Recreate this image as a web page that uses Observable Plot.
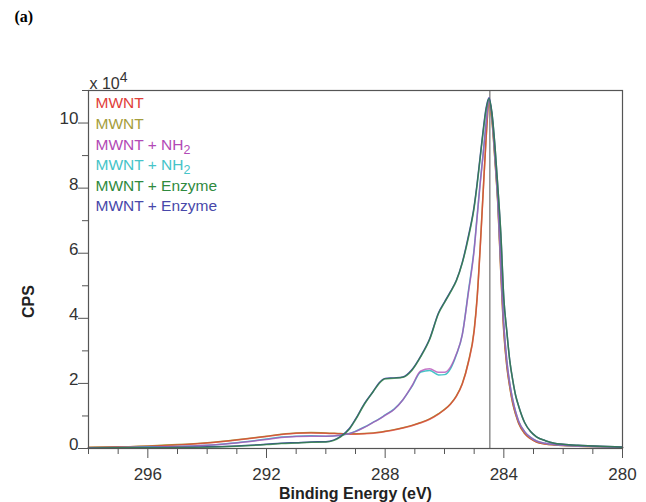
<!DOCTYPE html>
<html><head><meta charset="utf-8">
<script src="https://cdn.jsdelivr.net/npm/d3@7"></script>
<script src="https://cdn.jsdelivr.net/npm/@observablehq/plot@0.6"></script>
<style>
body{margin:0;background:#fff;}
</style></head><body><div id="chart"></div>
<script>
// Binding energy grid (eV), descending
const energy = [298, 297, 296, 295, 294, 293, 292,
  291.5, 291, 290.5, 290,
  289.5, 289.2, 289,
  288.7, 288.4, 288.2, 288,
  287.7, 287.4, 287.1,
  286.8, 286.5, 286.2, 286,
  285.8, 285.6, 285.4, 285.2, 285,
  284.9, 284.8, 284.7, 284.6, 284.5,
  284.4, 284.3, 284.2, 284.1, 284,
  283.9, 283.8, 283.7, 283.6, 283.5,
  283.3, 283.1, 282.9,
  282.6, 282.3, 282,
  281.5, 281, 280.5, 280];

// CPS (x 10^4)
const mwntRed = [0.03, 0.05, 0.07, 0.11, 0.17, 0.26, 0.37,
  0.43, 0.47, 0.48, 0.47,
  0.45, 0.44, 0.44,
  0.45, 0.47, 0.49, 0.52,
  0.57, 0.63, 0.70,
  0.79, 0.90, 1.06, 1.19,
  1.36, 1.60, 1.98, 2.62, 3.60,
  4.60, 6.10, 7.80, 9.50, 10.65,
  10.10, 8.90, 7.50, 5.40, 3.60,
  2.55, 1.90, 1.40, 1.05, 0.78,
  0.47, 0.30, 0.20,
  0.14, 0.11, 0.09,
  0.07, 0.06, 0.05, 0.04];
const mwntOlive = [0.04, 0.05, 0.08, 0.12, 0.18, 0.27, 0.38,
  0.44, 0.48, 0.49, 0.48,
  0.46, 0.45, 0.45,
  0.46, 0.48, 0.50, 0.53,
  0.58, 0.64, 0.71,
  0.80, 0.91, 1.07, 1.20,
  1.37, 1.62, 2.00, 2.65, 3.65,
  4.65, 6.15, 7.85, 9.50, 10.60,
  10.05, 8.85, 7.45, 5.35, 3.55,
  2.52, 1.88, 1.38, 1.04, 0.77,
  0.46, 0.30, 0.20,
  0.14, 0.11, 0.09,
  0.07, 0.06, 0.05, 0.04];
const nh2Magenta = [0.02, 0.03, 0.04, 0.06, 0.10, 0.17, 0.28,
  0.34, 0.37, 0.38, 0.38,
  0.41, 0.46, 0.52,
  0.65, 0.80, 0.90, 1.02,
  1.20, 1.50, 1.92,
  2.38, 2.45, 2.34, 2.34,
  2.50, 2.90, 3.50, 4.75, 6.10,
  7.10, 8.10, 9.00, 9.95, 10.70,
  10.20, 9.00, 7.60, 5.60, 3.80,
  2.70, 2.00, 1.50, 1.12, 0.84,
  0.52, 0.34, 0.23,
  0.16, 0.12, 0.10,
  0.08, 0.06, 0.05, 0.04];
const nh2Cyan = [0.02, 0.03, 0.05, 0.06, 0.10, 0.18, 0.29,
  0.35, 0.38, 0.39, 0.38,
  0.41, 0.46, 0.53,
  0.66, 0.81, 0.91, 1.03,
  1.21, 1.50, 1.90,
  2.35, 2.40, 2.26, 2.27,
  2.45, 2.88, 3.50, 4.80, 6.15,
  7.15, 8.15, 9.05, 10.00, 10.72,
  10.20, 9.00, 7.60, 5.60, 3.80,
  2.70, 2.00, 1.50, 1.12, 0.84,
  0.52, 0.34, 0.23,
  0.16, 0.12, 0.10,
  0.08, 0.06, 0.05, 0.04];
const enzGreen = [0.01, 0.02, 0.02, 0.03, 0.04, 0.07, 0.12,
  0.15, 0.17, 0.19, 0.20,
  0.36, 0.60, 0.88,
  1.36, 1.75, 2.00, 2.14,
  2.16, 2.19, 2.40,
  2.82, 3.35, 4.15, 4.48,
  4.80, 5.15, 5.70, 6.45, 7.40,
  8.10, 8.90, 9.70, 10.40, 10.75,
  10.30, 9.30, 8.00, 6.60, 4.60,
  3.60, 2.70, 2.10, 1.62, 1.30,
  0.80, 0.52, 0.36,
  0.24, 0.16, 0.13,
  0.10, 0.08, 0.06, 0.04];
const enzBlue = [0.01, 0.02, 0.03, 0.03, 0.05, 0.08, 0.13,
  0.16, 0.18, 0.20, 0.21,
  0.37, 0.62, 0.90,
  1.38, 1.76, 2.02, 2.15,
  2.17, 2.20, 2.42,
  2.84, 3.37, 4.17, 4.50,
  4.82, 5.17, 5.72, 6.50, 7.45,
  8.15, 8.95, 9.75, 10.45, 10.78,
  10.30, 9.30, 8.00, 6.55, 4.60,
  3.60, 2.70, 2.10, 1.62, 1.30,
  0.80, 0.52, 0.36,
  0.24, 0.16, 0.13,
  0.10, 0.08, 0.06, 0.04];

const seriesNames = ["MWNT", "MWNT", "MWNT + NH2", "MWNT + NH2", "MWNT + Enzyme", "MWNT + Enzyme"];
const seriesColors = ["#e0403a", "#a59d3c", "#b24ab6", "#46c4c8", "#2f8a3e", "#4848aa"];
const seriesValues = [mwntRed, mwntOlive, nh2Magenta, nh2Cyan, enzGreen, enzBlue];
const drawOrder = [1, 0, 3, 2, 5, 4];

const xMajorTicks = [296, 292, 288, 284, 280];
const xMinorTicks = [298, 297, 295, 294, 293, 291, 290, 289, 287, 286, 285, 283, 282, 281];
const yMajorTicks = [0, 2, 4, 6, 8, 10];
const yMinorTicks = [1, 3, 5, 7, 9, 11];
const referenceLine = [284.47];

const axisColor = "#555";
const textColor = "#333";

const lineMarks = drawOrder.map(k => Plot.line(
  energy.map((e, i) => ({e, v: seriesValues[k][i]})),
  {x: "e", y: "v", stroke: seriesColors[k], strokeWidth: 1.5, strokeOpacity: (k % 2 === 0) ? 0.75 : 1, curve: "monotone-x"}
));

const legendMarks = seriesNames.map((name, i) => Plot.text([name], {
  text: d => d, frameAnchor: "top-left", textAnchor: "start", lineAnchor: "middle",
  dx: 7, dy: 13 + i * 20.6, fill: seriesColors[i], fontSize: 15.5,
  className: name.endsWith("NH2") ? "leg-sub" : "leg"
}));

const chart = Plot.plot({
  width: 646,
  height: 502,
  marginLeft: 88,
  marginRight: 24,
  marginTop: 90,
  marginBottom: 54,
  style: {fontFamily: "'Liberation Sans', Arial, sans-serif", color: textColor, background: "white", overflow: "visible"},
  x: {domain: [298, 280], label: null},
  y: {domain: [0, 11], label: null},
  marks: [
    Plot.ruleX(referenceLine, {stroke: axisColor, strokeWidth: 1}),
    ...lineMarks,
    Plot.frame({stroke: axisColor, strokeWidth: 1.2}),
    Plot.axisX(xMinorTicks, {tickSize: 6, fill: "none", tickFormat: () => "", stroke: axisColor, label: null}),
    Plot.axisX(xMajorTicks, {tickSize: 10, fill: "none", tickFormat: () => "", stroke: axisColor, label: null}),
    Plot.axisX(xMajorTicks, {tickSize: 0, tickPadding: 19, fontSize: 17, fill: textColor, label: null}),
    Plot.axisY(yMinorTicks, {tickSize: 6, fill: "none", tickFormat: () => "", stroke: axisColor, label: null}),
    Plot.axisY(yMajorTicks, {tickSize: 10, fill: "none", tickFormat: () => "", stroke: axisColor, label: null}),
    Plot.axisY(yMajorTicks, {tickSize: 0, tickPadding: 10, dy: -4, fontSize: 17, fill: textColor, label: null}),
    ...legendMarks,
    Plot.text(["CPS"], {text: d => d, frameAnchor: "left", textAnchor: "middle", lineAnchor: "middle", rotate: -90, dx: -60, dy: 32, fontSize: 16, fontWeight: "bold", fill: "#222"}),
    Plot.text(["Binding Energy (eV)"], {text: d => d, frameAnchor: "bottom", textAnchor: "middle", lineAnchor: "middle", dy: 45, fontSize: 16, fontWeight: "bold", fill: "#222"}),
    Plot.text(["x 10"], {text: d => d, frameAnchor: "top-left", textAnchor: "start", lineAnchor: "middle", dx: 1, dy: -7, fontSize: 16, fill: textColor, className: "exp"}),
    Plot.text(["(a)"], {text: d => d, frameAnchor: "top-left", textAnchor: "start", lineAnchor: "middle", dx: -74, dy: -74, fontSize: 16, fontWeight: "bold", fontFamily: "'Liberation Serif', 'Times New Roman', serif", fill: "#000"})
  ]
});

const NS = "http://www.w3.org/2000/svg";
chart.querySelectorAll("g.leg-sub text").forEach(t => {
  const s = t.textContent;
  t.textContent = s.slice(0, -1);
  const ts = document.createElementNS(NS, "tspan");
  ts.setAttribute("dy", "4");
  ts.setAttribute("font-size", "12.5");
  ts.textContent = "2";
  t.appendChild(ts);
});
chart.querySelectorAll("g.exp text").forEach(t => {
  const ts = document.createElementNS(NS, "tspan");
  ts.setAttribute("dy", "-7");
  ts.setAttribute("font-size", "14");
  ts.textContent = "4";
  t.appendChild(ts);
});

document.getElementById("chart").appendChild(chart);
</script>
</body></html>
